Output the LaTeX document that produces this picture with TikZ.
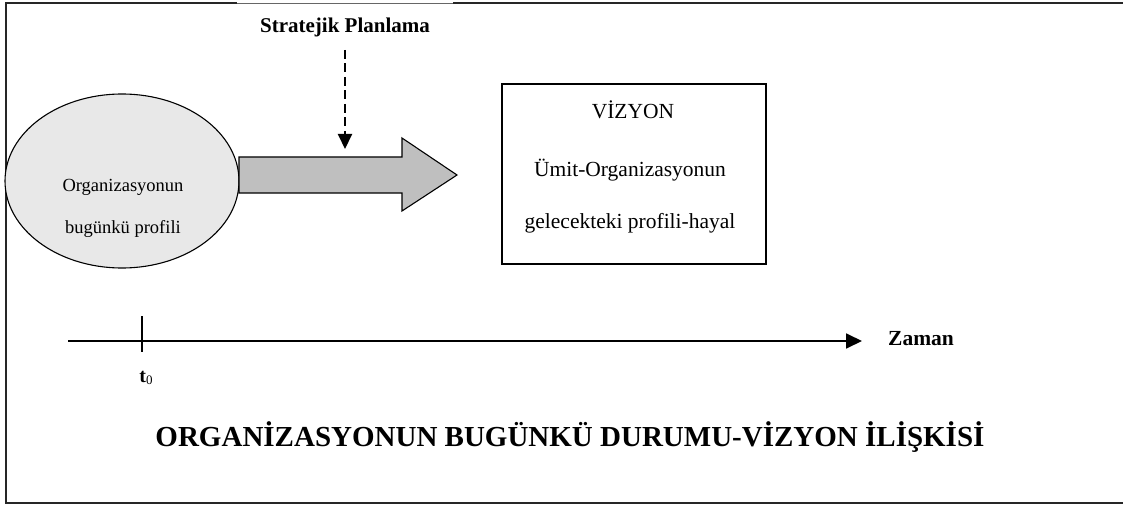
\documentclass[tikz,border=0pt]{standalone}
\usepackage{fontspec}
\setmainfont{Liberation Serif}
\usetikzlibrary{shapes.geometric,arrows.meta}
\begin{document}
\begin{tikzpicture}[x=1pt,y=-1pt,
  frameline/.style={line width=1.8pt,draw=black!85},
  txt/.style={inner sep=0pt,anchor=center},
  profile/.style={ellipse,draw,line width=1.1pt,fill=black!9,minimum width=234pt,minimum height=174pt,inner sep=0pt},
  visionbox/.style={draw,line width=1.2pt,minimum width=264pt,minimum height=180pt,inner sep=0pt},
  blockarrow/.style={draw,line width=1.1pt,fill=black!25,line join=miter},
  dasharrow/.style={line width=2pt,dash pattern=on 9pt off 4.5pt,-{Triangle[length=15pt,width=14pt]}},
  timeaxis/.style={line width=1.8pt,-{Triangle[length=16pt,width=15pt]}}
]
\useasboundingbox (0,0) rectangle (1123,505);

% outer frame (open on the right)
\draw[frameline] (1125,3) -- (453,3);
\draw[line width=0.8pt,draw=black!60] (453,3.5) -- (237,3.5);
\draw[frameline] (237,3) -- (6,3) -- (6,503) -- (1125,503);

% current profile
\node[profile] (now) at (122,181) {};
\node[txt,font=\fontsize{18.5}{22}\selectfont] (now1) at (123,187) {Organizasyonun};
\node[txt,font=\fontsize{18.5}{22}\selectfont] (now2) at (123,229) {bugünkü profili};

% strategic planning block arrow
\draw[blockarrow] (239,157) -- (402,157) -- (402,138) -- (457,175) -- (402,211) -- (402,193) -- (239,193) -- cycle;

\node[txt,font=\bfseries\fontsize{21}{25}\selectfont] (plan) at (345,27) {Stratejik Planlama};
\coordinate (planstart) at (345,50);
\coordinate (planend) at (345,149);
\draw[dasharrow] (planstart) -- (planend);

% vision box
\node[visionbox] (vision) at (634,174) {};
\node[txt,font=\fontsize{21.5}{25}\selectfont] (vis1) at (633,110) {VİZYON};
\node[txt,font=\fontsize{21.5}{25}\selectfont] (vis2) at (630,170) {Ümit-Organizasyonun};
\node[txt,font=\fontsize{21.5}{25}\selectfont] (vis3) at (630,223) {gelecekteki profili-hayal};

% time axis
\coordinate (axstart) at (68,341);
\coordinate (axend) at (862,341);
\draw[timeaxis] (axstart) -- (axend);
\coordinate (tick0) at (142,316);
\coordinate (tick1) at (142,352);
\draw[line width=1.5pt] (tick0) -- (tick1);
\node[txt,font=\fontsize{20}{24}\selectfont] (t0) at (146,378) {\textbf{t}\raisebox{-0.2ex}{\fontsize{13}{15}\selectfont 0}};
\node[txt,font=\bfseries\fontsize{21.5}{25}\selectfont] (zaman) at (921,339) {Zaman};

% caption
\node[txt,font=\bfseries\fontsize{29}{34}\selectfont] (title) at (570,437) {ORGANİZASYONUN BUGÜNKÜ DURUMU-VİZYON İLİŞKİSİ};
\end{tikzpicture}
\end{document}
